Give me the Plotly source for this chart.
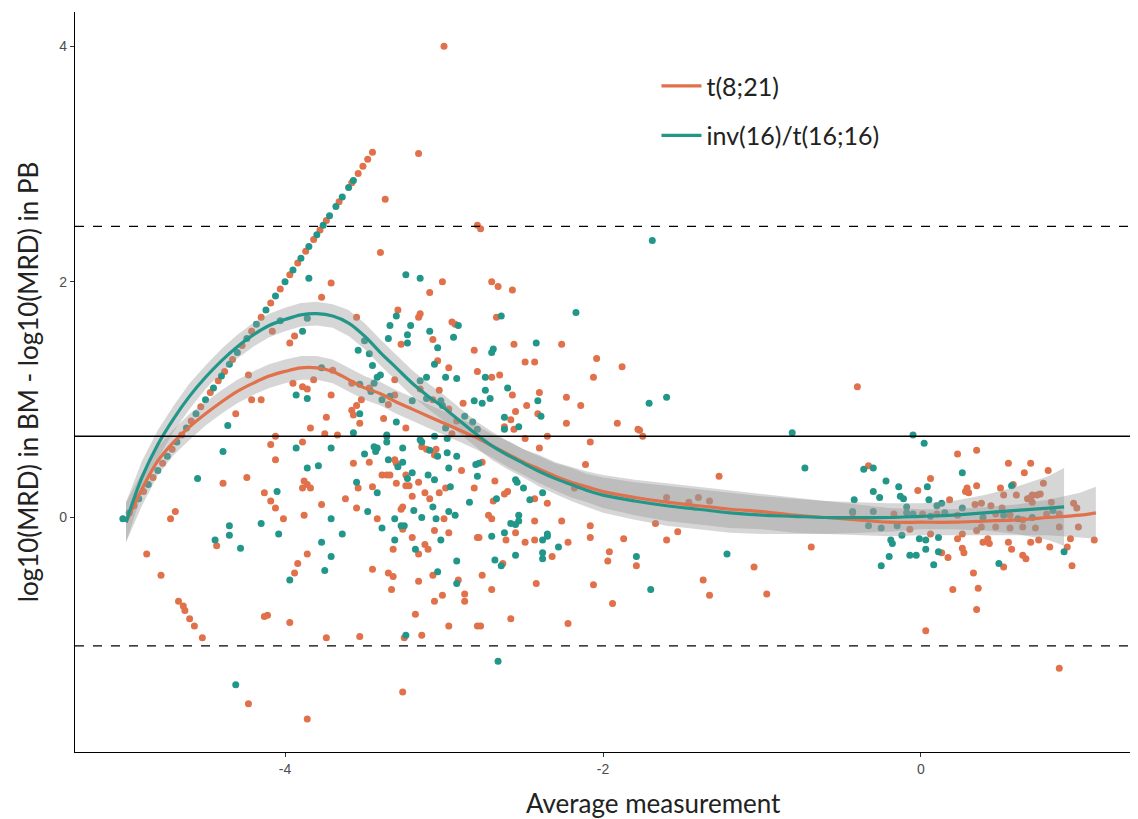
import plotly.graph_objects as go

# ---------------- data ----------------
series_names = ["t(8;21)", "inv(16)/t(16;16)"]
series_colors = ["#E0714B", "#23968A"]

# reference lines: mean difference and limits of agreement
mean_diff = 0.69
loa_upper = 2.47
loa_lower = -1.09

# points on the detection-limit diagonal
t821_diag = [(-4.95, 0.10), (-4.89, 0.22), (-4.83, 0.34), (-4.77, 0.46), (-4.71, 0.58), (-4.65, 0.70), (-4.59, 0.82),
             (-4.53, 0.94), (-4.47, 1.06), (-4.42, 1.16), (-4.38, 1.24),
             (-4.33, 1.34), (-4.27, 1.46), (-4.21, 1.58), (-4.15, 1.70), (-4.09, 1.82), (-4.03, 1.94),
             (-3.97, 2.06), (-3.92, 2.16), (-3.87, 2.26), (-3.82, 2.36), (-3.78, 2.44), (-3.74, 2.52),
             (-3.66, 2.68), (-3.58, 2.84), (-3.54, 2.92), (-3.51, 2.98), (-3.48, 3.04), (-3.45, 3.10)]
inv16_diag = [(-4.98, 0.04), (-4.92, 0.16), (-4.86, 0.28), (-4.80, 0.40), (-4.74, 0.52), (-4.68, 0.64),
              (-4.62, 0.76), (-4.56, 0.88), (-4.50, 1.00), (-4.45, 1.10), (-4.40, 1.20), (-4.35, 1.30),
              (-4.30, 1.40), (-4.24, 1.52), (-4.18, 1.64), (-4.12, 1.76), (-4.06, 1.88), (-4.00, 2.00),
              (-3.95, 2.10), (-3.90, 2.20), (-3.85, 2.30), (-3.80, 2.40), (-3.76, 2.48), (-3.72, 2.56),
              (-3.68, 2.64), (-3.64, 2.72), (-3.60, 2.80), (-3.57, 2.86), (-5.02, -0.01)]

t821_points = [
    (-4.87, -0.31), (-4.78, -0.49), (-4.67, -0.71), (-4.64, -0.75), (-4.63, -0.79), (-4.60, -0.86), (-4.57, -0.92), (-4.52, -1.02),
    (-4.39, 0.29), (-4.24, 0.34), (-4.69, 0.05), (-4.72, -0.01), (-4.43, -0.24), (-4.13, 0.21), (-4.09, 0.14), (-4.06, 0.08), (-4.01, -0.01),
    (-4.09, 0.62), (-4.06, 0.69), (-4.06, 0.49), (-3.84, 0.76), (-3.75, 0.71), (-3.89, 0.64), (-3.88, 0.31), (-3.86, 0.28), (-3.89, 0.25), (-3.84, 0.25),
    (-3.77, 0.11), (-3.88, 0.02), (-3.86, -0.31), (-3.92, -0.39), (-3.94, -0.47), (-4.13, -0.84), (-3.97, -0.89), (-3.74, -1.02), (-4.23, -1.58), (-3.86, -1.71),
    (-3.71, 1.99), (-3.77, 1.87), (-4.08, 1.58), (-3.94, 1.54), (-3.97, 1.48), (-4.23, 1.21), (-3.95, 1.14), (-3.89, 1.11), (-3.86, 1.09), (-3.82, 1.17),
    (-3.71, 1.04), (-4.21, 1.00), (-4.15, 1.00), (-4.31, 0.88), (-3.74, 0.85), (-3.70, 1.25),
    (-3.40, 2.25), (-3.01, 2.00), (-3.09, 1.91), (-3.29, 1.76), (-3.15, 1.73), (-3.16, 1.70), (-3.55, 1.70), (-2.95, 1.66), (-2.93, 1.64), (-3.07, 1.51),
    (-3.27, 1.47), (-2.81, 1.42), (-3.04, 1.33), (-2.97, 1.27), (-2.79, 1.24), (-3.31, 1.17), (-3.58, 1.14), (-3.47, 1.10), (-3.15, 1.09), (-3.03, 1.08),
    (-3.31, 1.04), (-3.07, 1.00), (-2.88, 0.97), (-3.55, 0.95), (-3.58, 0.91), (-3.52, 1.00), (-3.57, 0.87), (-3.35, 0.96), (-3.38, 0.84), (-3.24, 0.76),
    (-3.53, 0.80), (-3.67, 0.70), (-2.97, 0.92), (-2.92, 0.82), (-2.95, 0.71),
    (-3.57, 0.46), (-3.47, 0.47), (-3.31, 0.49), (-3.30, 0.46), (-3.14, 0.60), (-3.11, 0.58), (-3.05, 0.58), (-3.06, 0.53), (-3.39, 0.36), (-3.36, 0.36),
    (-3.34, 0.36), (-3.24, 0.36), (-3.24, 0.27), (-3.22, 0.27), (-2.89, 0.40), (-3.16, 0.30), (-3.30, 0.29), (-2.99, 0.25), (-3.03, 0.21), (-2.81, 0.25),
    (-3.12, 0.21), (-3.09, 0.16), (-3.20, 0.18), (-3.54, 0.25), (-3.45, 0.26), (-3.62, 0.16), (-3.55, 0.08), (-3.26, 0.09), (-3.27, 0.07), (-3.00, -0.01),
    (-3.42, -0.01), (-3.26, -0.10), (-3.06, -0.11), (-2.97, -0.13), (-3.20, -0.17), (-3.32, -0.27), (-3.12, -0.23), (-3.10, -0.27), (-3.16, -0.31), (-3.45, -0.44),
    (-3.35, -0.47), (-3.32, -0.50), (-3.33, -0.61), (-3.16, -0.54), (-3.07, -0.49), (-2.91, -0.53), (-3.01, -0.66), (-3.06, -0.71), (-2.87, -0.65), (-2.87, -0.71),
    (-3.18, -0.82), (-2.79, -0.92), (-2.78, -0.17),
    (-3.00, 4.00), (-3.16, 3.09), (-3.37, 2.70), (-2.79, 2.48), (-2.77, 2.45), (-3.26, -1.48), (-3.25, -1.02), (-3.53, -1.01), (-3.14, -1.00), (-2.97, -0.92), (-4.11, -0.83),
    (-2.70, 2.00), (-2.66, 1.96), (-2.57, 1.93), (-2.67, 1.70), (-2.56, 1.47), (-2.26, 1.47), (-2.49, 1.32), (-2.43, 1.32), (-2.04, 1.35), (-1.88, 1.28),
    (-2.06, 1.19), (-2.70, 1.19), (-2.65, 1.21), (-2.57, 1.04), (-2.40, 1.06), (-2.23, 1.02), (-2.14, 0.95), (-2.48, 0.95), (-2.55, 0.90), (-2.41, 0.88),
    (-2.58, 0.83), (-2.62, 0.77), (-2.56, 0.75), (-2.23, 0.80), (-1.91, 0.80), (-1.78, 0.75), (-2.35, 0.69), (-2.49, 0.67), (-1.75, 0.69),
    (-2.40, 0.59), (-2.08, 0.64), (-1.77, 0.74), (-2.11, 0.45), (-2.76, 0.47), (-2.68, 0.31), (-2.62, 0.20), (-2.60, 0.22), (-2.69, 0.14), (-2.43, 0.16),
    (-2.35, 0.12), (-2.18, 0.25), (-2.72, 0.02), (-2.70, -0.01), (-2.43, -0.03), (-2.26, -0.03), (-2.08, -0.07), (-1.67, -0.05), (-2.55, -0.13), (-2.79, -0.17),
    (-2.61, -0.19), (-2.49, -0.21), (-2.43, -0.19), (-2.22, -0.21), (-2.08, -0.17), (-1.87, -0.18), (-1.60, -0.19), (-2.32, -0.33), (-2.63, -0.39), (-1.96, -0.29),
    (-1.97, -0.37), (-1.79, -0.41), (-2.76, -0.49), (-2.70, -0.61), (-2.42, -0.56), (-2.06, -0.57), (-1.94, -0.73), (-2.58, -0.86), (-2.77, -0.92), (-2.22, -0.90),
    (-0.40, 1.11), (-1.27, 0.35), (-1.60, 0.17), (-1.46, 0.13), (-1.40, 0.17), (-1.33, 0.14), (-0.43, 0.04), (-1.53, -0.12), (-0.69, -0.25), (-1.05, -0.42),
    (-1.37, -0.53), (-1.33, -0.66), (-0.97, -0.65),
    (-0.33, 0.44), (0.23, 0.54), (0.35, 0.57), (0.55, 0.46), (0.69, 0.46), (0.65, 0.38), (0.80, 0.40), (0.06, 0.33), (-0.02, 0.23), (0.29, 0.25),
    (0.30, 0.21), (0.28, 0.22), (0.35, 0.27), (0.58, 0.28), (0.77, 0.29), (0.50, 0.25), (0.52, 0.19), (0.60, 0.19), (0.67, 0.16), (0.69, 0.17),
    (0.70, 0.19), (0.73, 0.19), (0.75, 0.20), (0.70, 0.13), (0.18, 0.15), (0.34, 0.11), (0.38, 0.12), (0.44, 0.10), (0.51, 0.08), (0.96, 0.12),
    (0.98, 0.08), (0.82, 0.13),
    (-0.17, 0.03), (0.01, 0.03), (0.10, 0.03), (0.23, 0.02), (0.47, 0.03), (0.56, 0.02), (0.64, -0.02), (0.79, 0.03), (0.87, 0.03),
    (-0.07, -0.10), (0.06, -0.14), (0.23, -0.18), (0.26, -0.14), (0.35, -0.11), (0.38, -0.08), (0.42, -0.18), (0.43, -0.22), (0.47, -0.08), (0.56, -0.09),
    (0.64, -0.08), (0.69, -0.21), (0.72, -0.09), (0.74, -0.19), (0.81, -0.25), (0.87, -0.08), (0.94, -0.18), (0.99, -0.08), (1.09, -0.19),
    (0.13, -0.30), (0.17, -0.34), (0.26, -0.26), (0.27, -0.30), (0.33, -0.47), (0.20, -0.61), (0.36, -0.60), (0.35, -0.78), (0.03, -0.96), (0.87, -1.28),
    (0.52, -0.42), (0.57, -0.27), (0.64, -0.32), (0.66, -0.35), (0.92, -0.25), (0.95, -0.41), (0.39, -0.21), (0.55, -0.21),
]

inv16_points = [
    (-4.36, 0.78), (-4.39, 0.56), (-4.55, 0.33), (-4.35, -0.07), (-4.44, -0.19), (-4.35, -0.15), (-4.28, -0.26), (-4.15, -0.05), (-4.04, -0.14), (-4.05, 0.22),
    (-3.93, 0.59), (-3.86, 0.42), (-3.79, 0.44), (-3.71, -0.01), (-3.77, -0.21), (-3.71, -0.33), (-3.75, -0.45), (-3.97, -0.53), (-4.31, -1.42),
    (-3.85, 2.03), (-4.03, 1.67), (-3.89, 1.58), (-3.86, 1.69), (-3.77, 1.27), (-3.93, 1.04), (-3.86, 1.01),
    (-3.24, 2.06), (-3.15, 2.03), (-3.30, 1.71), (-3.34, 1.63), (-3.21, 1.63), (-3.09, 1.58), (-2.91, 1.63), (-2.94, 1.53), (-3.35, 1.52), (-3.23, 1.55),
    (-3.23, 1.48), (-3.04, 1.44), (-3.54, 1.42), (-3.50, 1.50), (-3.47, 1.39), (-3.45, 1.29), (-3.06, 1.30), (-3.40, 1.21), (-3.42, 1.19), (-3.44, 1.14),
    (-3.15, 1.16), (-3.11, 1.19), (-2.99, 1.19), (-2.92, 1.18), (-3.53, 1.13), (-3.46, 1.07), (-3.34, 1.03), (-3.11, 1.01), (-3.39, 1.00), (-3.20, 0.99),
    (-3.02, 0.99), (-3.01, 0.95), (-2.81, 0.99), (-3.53, 0.88), (-3.30, 0.81), (-3.57, 0.72), (-2.87, 0.86), (-2.82, 0.81), (-2.99, 0.76), (-3.36, 0.70),
    (-3.15, 0.66),
    (-3.71, 0.59), (-3.36, 0.69), (-3.36, 0.64), (-3.50, 0.54), (-3.43, 0.56), (-3.42, 0.59), (-3.44, 0.60), (-3.26, 0.59), (-3.35, 0.49), (-3.26, 0.47),
    (-3.29, 0.43), (-3.14, 0.64), (-3.09, 0.57), (-3.04, 0.52), (-2.98, 0.55), (-2.92, 0.52), (-3.06, 0.69), (-2.98, 0.67), (-3.20, 0.38), (-3.23, 0.33),
    (-3.10, 0.36), (-3.06, 0.32), (-2.97, 0.42), (-2.96, 0.26), (-2.80, 0.45), (-2.79, 0.35), (-2.84, 0.13), (-3.55, 0.30), (-3.42, 0.21), (-3.48, 0.05),
    (-3.19, 0.06), (-3.07, 0.09), (-2.97, 0.05), (-2.93, 0.02), (-3.05, -0.01), (-3.14, 0.00), (-3.31, -0.01), (-3.39, -0.09), (-3.27, -0.07), (-3.25, -0.07),
    (-3.02, -0.19), (-3.31, -0.19), (-3.18, -0.27), (-3.64, -0.14), (-3.04, -0.46), (-2.92, -0.37), (-2.92, -0.56),
    (-1.69, 2.35), (-3.24, -1.00), (-2.66, -1.22),
    (-2.64, 1.71), (-2.17, 1.74), (-2.69, 1.43), (-2.70, 1.40), (-2.42, 1.48), (-2.74, 1.19), (-2.60, 1.10), (-2.74, 1.08), (-2.76, 0.97), (-2.71, 1.01),
    (-2.41, 0.99), (-2.39, 0.86), (-2.62, 0.85), (-2.53, 0.77), (-2.62, 0.75), (-2.79, 0.75), (-1.71, 0.97), (-1.60, 1.02),
    (-2.78, 0.46), (-2.55, 0.32), (-2.54, 0.30), (-2.50, 0.25), (-2.67, 0.16), (-2.38, 0.21), (-2.46, 0.15), (-2.53, 0.02), (-2.53, -0.03), (-2.55, -0.06),
    (-2.58, -0.05), (-2.62, -0.13), (-2.70, -0.16), (-2.38, -0.19), (-2.35, -0.16), (-2.35, -0.14), (-2.28, -0.25), (-2.38, -0.30), (-2.38, -0.35), (-2.55, -0.32),
    (-2.68, -0.36), (-2.64, -0.41), (-1.79, -0.33), (-1.70, -0.61),
    (-0.81, 0.72), (-0.73, 0.42), (-0.42, 0.15), (-1.22, -0.31),
    (-0.05, 0.70), (0.02, 0.63), (-0.36, 0.41), (-0.30, 0.42), (-0.22, 0.31), (0.26, 0.38), (0.04, 0.26), (-0.14, 0.26), (0.57, 0.27), (-0.30, 0.22),
    (-0.26, 0.17), (-0.13, 0.18), (-0.11, 0.16), (0.05, 0.15), (-0.09, 0.09), (0.13, 0.12), (0.10, 0.10), (0.26, 0.08),
    (-0.43, 0.05), (-0.30, 0.05), (-0.09, 0.04), (-0.05, 0.03), (0.06, 0.01), (0.15, 0.04), (0.39, 0.00), (0.52, 0.02), (0.61, -0.01), (0.70, 0.00), (0.83, 0.06),
    (-0.33, -0.07), (-0.25, -0.09), (-0.15, -0.07), (-0.12, -0.15), (-0.01, -0.18), (0.03, -0.19), (0.11, -0.17), (-0.19, -0.19), (-0.18, -0.22),
    (-0.25, -0.41), (-0.20, -0.33), (-0.07, -0.32), (-0.03, -0.32), (0.03, -0.27), (0.08, -0.40), (0.11, -0.29), (0.49, -0.39), (0.90, -0.29),
]

# loess fits with confidence half-widths
t821_fit_x = [-5.0, -4.9, -4.8, -4.7, -4.6, -4.5, -4.4, -4.3, -4.2, -4.1, -4.0, -3.9, -3.8, -3.7, -3.6, -3.5,
              -3.4, -3.3, -3.2, -3.1, -3.0, -2.9, -2.8, -2.7, -2.6, -2.5, -2.4, -2.3, -2.2, -2.1, -2.0,
              -1.8, -1.6, -1.4, -1.2, -1.0, -0.8, -0.6, -0.4, -0.2, 0.0, 0.2, 0.4, 0.6, 0.8, 1.0, 1.1]
t821_fit_y = [-0.04, 0.24, 0.48, 0.64, 0.77, 0.88, 0.98, 1.07, 1.14, 1.20, 1.24, 1.27, 1.27, 1.24, 1.17, 1.10,
              1.05, 0.98, 0.92, 0.86, 0.80, 0.74, 0.68, 0.61, 0.54, 0.47, 0.41, 0.35, 0.30, 0.26, 0.22,
              0.17, 0.13, 0.10, 0.07, 0.05, 0.02, 0.00, -0.02, -0.04, -0.04, -0.04, -0.03, -0.02, 0.00, 0.02, 0.04]
t821_fit_ci = [0.17, 0.14, 0.12, 0.11, 0.11, 0.10, 0.10, 0.10, 0.10, 0.10, 0.10, 0.10, 0.10, 0.10, 0.10, 0.10,
               0.10, 0.10, 0.10, 0.10, 0.10, 0.10, 0.10, 0.10, 0.11, 0.11, 0.12, 0.12, 0.13, 0.13, 0.14,
               0.15, 0.16, 0.16, 0.16, 0.15, 0.15, 0.14, 0.13, 0.12, 0.11, 0.11, 0.12, 0.13, 0.15, 0.19, 0.22]

inv16_fit_x = [-5.0, -4.9, -4.8, -4.7, -4.6, -4.5, -4.4, -4.3, -4.2, -4.1, -4.0, -3.9, -3.8, -3.7, -3.6, -3.5,
               -3.4, -3.3, -3.2, -3.1, -3.0, -2.9, -2.8, -2.7, -2.6, -2.5, -2.4, -2.3, -2.2, -2.1, -2.0,
               -1.8, -1.6, -1.4, -1.2, -1.0, -0.8, -0.6, -0.4, -0.2, 0.0, 0.2, 0.4, 0.6, 0.8, 0.9]
inv16_fit_y = [-0.04, 0.34, 0.62, 0.84, 1.03, 1.19, 1.33, 1.45, 1.55, 1.63, 1.68, 1.72, 1.73, 1.71, 1.65, 1.54,
               1.40, 1.27, 1.14, 1.03, 0.93, 0.82, 0.71, 0.61, 0.53, 0.46, 0.39, 0.33, 0.28, 0.23, 0.19,
               0.14, 0.10, 0.07, 0.04, 0.02, 0.01, 0.00, 0.00, 0.00, 0.01, 0.02, 0.04, 0.06, 0.08, 0.09]
inv16_fit_ci = [0.17, 0.14, 0.12, 0.11, 0.11, 0.10, 0.10, 0.10, 0.10, 0.10, 0.10, 0.10, 0.10, 0.10, 0.11, 0.11,
                0.11, 0.11, 0.11, 0.11, 0.11, 0.11, 0.11, 0.12, 0.12, 0.12, 0.13, 0.13, 0.14, 0.14, 0.15,
                0.16, 0.17, 0.17, 0.17, 0.16, 0.15, 0.14, 0.13, 0.12, 0.11, 0.12, 0.15, 0.20, 0.27, 0.33]

x_ticks = [-4, -2, 0]
y_ticks = [0, 2, 4]

# ---------------- figure ----------------
fig = go.Figure()

point_sets = [t821_points + t821_diag, inv16_points + inv16_diag]
for pts, col in zip(point_sets, series_colors):
    fig.add_trace(go.Scatter(
        x=[p[0] for p in pts], y=[p[1] for p in pts], mode="markers",
        marker=dict(size=7, color=col, line=dict(width=0)),
        showlegend=False, hoverinfo="skip"))

fits = [(t821_fit_x, t821_fit_y, t821_fit_ci), (inv16_fit_x, inv16_fit_y, inv16_fit_ci)]
for fx, fy, ci in fits:
    upper = [y + c for y, c in zip(fy, ci)]
    lower = [y - c for y, c in zip(fy, ci)]
    fig.add_trace(go.Scatter(
        x=fx + fx[::-1], y=upper + lower[::-1], mode="lines", fill="toself",
        fillcolor="rgba(153,153,153,0.4)", line=dict(width=0),
        showlegend=False, hoverinfo="skip"))

for (fx, fy, ci), name, col in zip(fits, series_names, series_colors):
    fig.add_trace(go.Scatter(
        x=fx, y=fy, mode="lines", name=name, legendgroup=name,
        line=dict(color=col, width=3.2, shape="spline"), hoverinfo="skip"))

for yv, dash in [(mean_diff, "solid"), (loa_upper, "dash"), (loa_lower, "dash")]:
    fig.add_shape(type="line", xref="paper", x0=0, x1=1, yref="y", y0=yv, y1=yv,
                  line=dict(color="black", width=1.6 if dash == "solid" else 1.3, dash=dash))

font_title = "Lato, 'Open Sans', sans-serif"
tick_font = dict(family="Liberation Sans Narrow, Liberation Sans, Arial", size=14, color="#4D4D4D")
fig.update_layout(
    width=1130, height=811,
    margin=dict(l=67, r=0, t=4, b=67),
    paper_bgcolor="white", plot_bgcolor="white",
    showlegend=True,
    legend=dict(x=0.547, y=0.931, xanchor="left", yanchor="top",
                font=dict(family=font_title, size=25, color="#222222"),
                bgcolor="rgba(0,0,0,0)", tracegroupgap=14, itemwidth=40),
    xaxis=dict(range=[-5.321, 1.365], tickvals=x_ticks, ticktext=[str(v) for v in x_ticks],
               showgrid=False, zeroline=False, showline=True, linecolor="black", linewidth=1.3,
               ticks="outside", ticklen=4, tickcolor="#333333", tickwidth=1, tickfont=tick_font),
    yaxis=dict(range=[-1.99, 4.29], tickvals=y_ticks, ticktext=[str(v) for v in y_ticks],
               showgrid=False, zeroline=False, showline=True, linecolor="black", linewidth=1.3,
               ticks="outside", ticklen=4, tickcolor="#333333", tickwidth=1, tickfont=tick_font),
    annotations=[
        dict(text="Average measurement", xref="paper", yref="paper", x=0.544, y=-0.069,
             xanchor="center", yanchor="middle", showarrow=False,
             font=dict(family=font_title, size=26, color="#222222")),
        dict(text="log10(MRD) in BM - log10(MRD) in PB", xref="paper", yref="paper", x=-0.044, y=0.5,
             xanchor="center", yanchor="middle", showarrow=False, textangle=-90,
             font=dict(family=font_title, size=26, color="#222222")),
    ],
)

fig.write_html("out.html")
